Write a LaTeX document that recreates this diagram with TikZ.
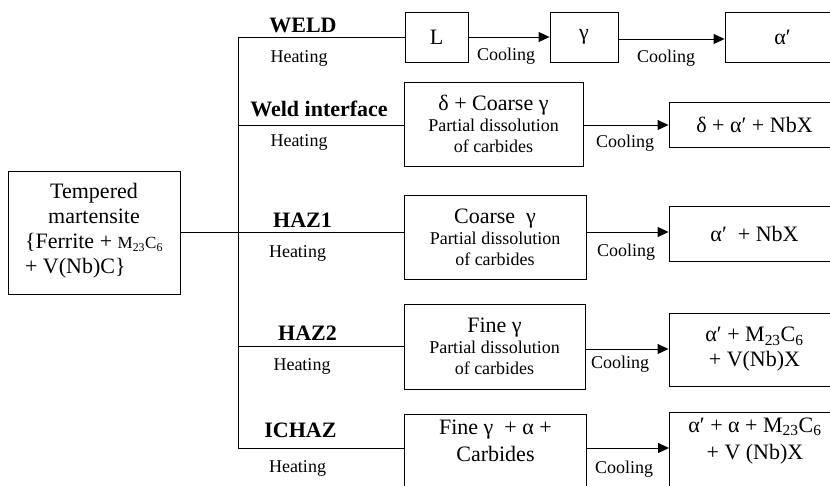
\documentclass[tikz,border=0pt]{standalone}
\usepackage{fontspec}
\setmainfont{Liberation Serif}
\usetikzlibrary{arrows.meta}
\newcommand{\fbig}{\fontsize{22}{25}\selectfont}
\newcommand{\fsmall}{\fontsize{18}{21}\selectfont}
\newcommand{\fsub}{\fontsize{17}{20}\selectfont}
\begin{document}
\begin{tikzpicture}[x=1pt,y=-1pt,
  box/.style={draw, line width=0.9pt, rectangle, inner sep=0pt, align=center},
  zone/.style={font=\fbig\bfseries, anchor=base, inner sep=0pt},
  heat/.style={font=\fsmall, anchor=base, inner sep=0pt},
  cool/.style={font=\fsmall, anchor=base west, inner sep=0pt},
  arr/.style={line width=0.9pt, -{Triangle[length=11pt,width=10pt]}},
  ln/.style={line width=0.9pt}]
\useasboundingbox (0,0) rectangle (830,485);
\clip (0,0) rectangle (830,485);

% source box
\node[box, font=\fbig, minimum width=172pt, minimum height=123pt] (tm) at (94,232.5)
  {Tempered\\martensite\\\begin{tabular}[t]{@{}l@{}}\{Ferrite + {\fsub M\textsubscript{23}C\textsubscript{6}}\\+ V(Nb)C\}\end{tabular}};

% WELD row
\node[box, font=\fbig, minimum width=63pt, minimum height=50pt] (L) at (436.5,37) {L};
\node[box, font=\fbig, minimum width=68pt, minimum height=50pt] (g) at (584,37) {γ};
\node[box, font=\fbig, minimum width=115pt, minimum height=50pt] (ap) at (782.5,37) {α′};

% Weld interface row
\node[box, font=\fsmall, minimum width=179pt, minimum height=84pt] (wi) at (493.5,124)
  {{\fbig δ + Coarse γ}\\Partial dissolution\\of carbides};
\node[box, font=\fbig, minimum width=171pt, minimum height=45pt] (wir) at (754.5,124.5)
  {δ + α′ + NbX};

% HAZ1 row
\node[box, font=\fsmall, minimum width=182pt, minimum height=84pt] (h1) at (495,237)
  {{\fbig Coarse~ γ}\\Partial dissolution\\of carbides};
\node[box, font=\fbig, minimum width=171pt, minimum height=55pt] (h1r) at (754.5,233.5)
  {α′~ + NbX};

% HAZ2 row
\node[box, font=\fsmall, minimum width=181pt, minimum height=85pt] (h2) at (494.5,346.5)
  {{\fbig Fine γ}\\Partial dissolution\\of carbides};
\node[box, font=\fbig, minimum width=171pt, minimum height=73pt] (h2r) at (754.5,349.5)
  {α′ + M\textsubscript{23}C\textsubscript{6}\\+ V(Nb)X};

% ICHAZ row (cut by the lower edge)
\node[box, minimum width=182pt, minimum height=80pt, anchor=north west] (ic) at (404,414) {};
\node[font=\fbig, align=center, anchor=north, inner sep=0pt, yshift=-6pt] (ict) at (ic.north)
  {Fine γ~ + α +\\[2pt]Carbides};
\node[box, minimum width=171pt, minimum height=82pt, anchor=north west] (icr) at (669,412) {};
\node[font=\fbig, align=center, anchor=north, inner sep=0pt, yshift=-5.5pt] (icrt) at (icr.north)
  {α′ + α + M\textsubscript{23}C\textsubscript{6}\\[2pt]+ V (Nb)X};

% trunk and branches
\coordinate (tr) at (238,37);
\coordinate (bwi) at (238,125);
\coordinate (bh1) at (238,232);
\coordinate (bh2) at (238,346);
\coordinate (trb) at (238,448);
\coordinate (ah2) at (238,349);
\coordinate (ag) at (238,39);
\draw[ln] (tr) -- (trb);
\draw[ln] (tm.east) -- (tm.east -| tr);
\draw[ln] (tr) -- (L.west);
\draw[ln] (bwi) -- (bwi -| wi.west);
\draw[ln] (bh1) -- (bh1 -| h1.west);
\draw[ln] (bh2) -- (bh2 -| h2.west);
\draw[ln] (trb) -- (trb -| ic.west);

% cooling arrows
\draw[arr] (L.east) -- (g.west);
\draw[arr] (g.east |- ag) -- (ap.west |- ag);
\draw[arr] (wi.east |- bwi) -- (wir.west |- bwi);
\draw[arr] (h1.east |- bh1) -- (h1r.west |- bh1);
\draw[arr] (h2.east |- ah2) -- (h2r.west |- ah2);
\draw[arr] (ic.east |- trb) -- (icr.west |- trb);

% zone names
\node[zone] (zw) at (303,32) {WELD};
\node[zone] (zwi) at (319,116) {Weld interface};
\node[zone] (zh1) at (302.5,227) {HAZ1};
\node[zone] (zh2) at (307.5,340) {HAZ2};
\node[zone] (zic) at (300.5,437) {ICHAZ};

% heating labels
\node[heat] (hw) at (299,62) {Heating};
\node[heat] (hwi) at (299,146) {Heating};
\node[heat] (hh1) at (297.5,257) {Heating};
\node[heat] (hh2) at (302,370) {Heating};
\node[heat] (hic) at (297.5,472) {Heating};

% cooling labels
\node[cool] (c1) at (477,60) {Cooling};
\node[cool] (c2) at (637,62) {Cooling};
\node[cool] (c3) at (596,147) {Cooling};
\node[cool] (c4) at (597,256) {Cooling};
\node[cool] (c5) at (591,368) {Cooling};
\node[cool] (c6) at (595,473) {Cooling};
\end{tikzpicture}
\end{document}
